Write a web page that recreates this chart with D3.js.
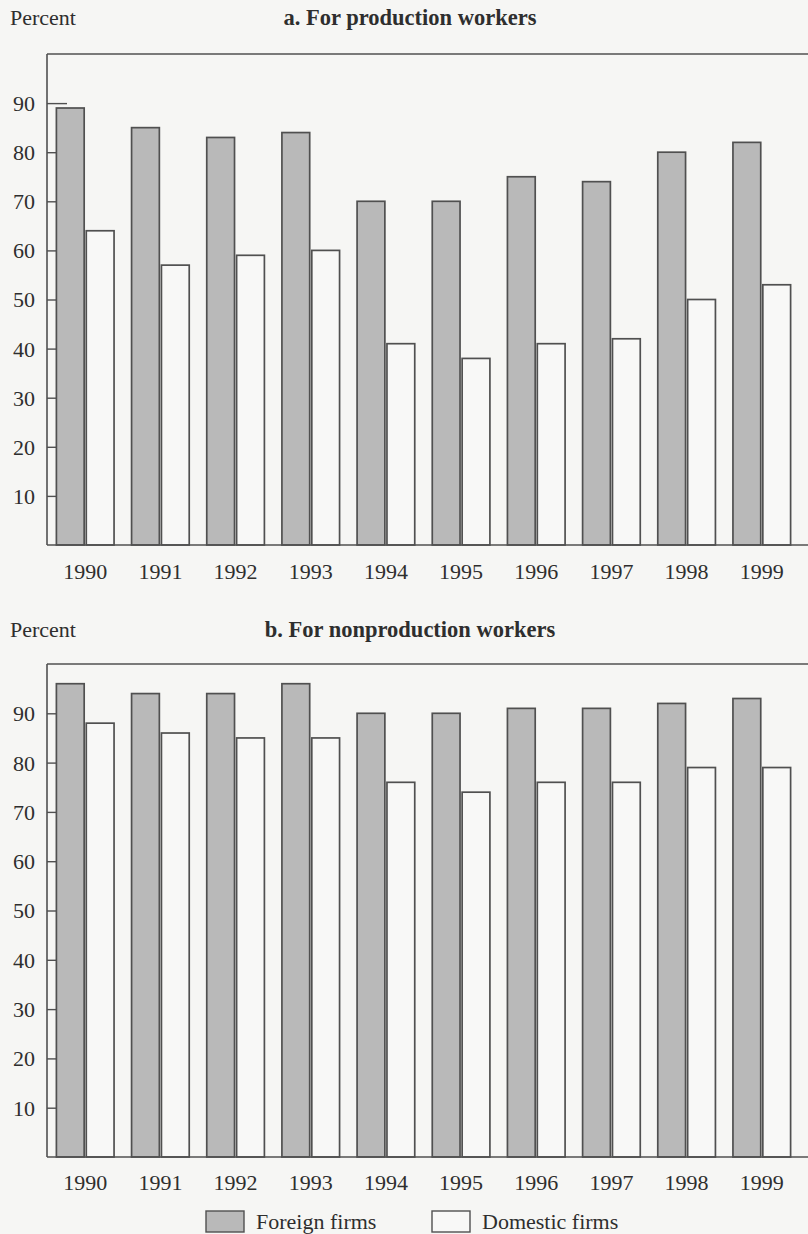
<!DOCTYPE html>
<html>
<head>
<meta charset="utf-8">
<script src="https://cdn.jsdelivr.net/npm/d3@7"></script>
<style>
  html, body { margin: 0; padding: 0; background: #f6f6f4; }
  svg { display: block; }
  text { font-family: "Liberation Serif", "Times New Roman", serif; fill: #2e2e2e; }
</style>
</head>
<body>
<svg id="chart" width="808" height="1234"></svg>
<script>
// Share of firms providing training, by worker type (percent)
const years = ["1990", "1991", "1992", "1993", "1994", "1995", "1996", "1997", "1998", "1999"];
const seriesKeys = ["foreign", "domestic"];
const seriesLabels = ["Foreign firms", "Domestic firms"];

const productionForeign  = [89, 85, 83, 84, 70, 70, 75, 74, 80, 82];
const productionDomestic = [64, 57, 59, 60, 41, 38, 41, 42, 50, 53];

const nonproductionForeign  = [96, 94, 94, 96, 90, 90, 91, 91, 92, 93];
const nonproductionDomestic = [88, 86, 85, 85, 76, 74, 76, 76, 79, 79];

const yTicks = [10, 20, 30, 40, 50, 60, 70, 80, 90];

const panels = [
  { title: "a. For production workers", foreign: productionForeign, domestic: productionDomestic,
    top: 54, bottom: 545, titleY: 25, yearY: 579 },
  { title: "b. For nonproduction workers", foreign: nonproductionForeign, domestic: nonproductionDomestic,
    top: 664, bottom: 1157, titleY: 637, yearY: 1190 }
];

const W = 808;
const axisLeft = 47;
const fontSize = 22;
const fills = { foreign: "#b9b9b9", domestic: "#f8f8f7" };
const stroke = "#505050";

const svg = d3.select("#chart");

const x0 = d3.scaleBand().domain(years).range([47, 800]).paddingInner(0.233).paddingOuter(0.125);
const x1 = d3.scaleBand().domain(seriesKeys).range([0, x0.bandwidth()]).paddingInner(0.07);

panels.forEach(p => {
  const y = d3.scaleLinear().domain([0, 100]).range([p.bottom, p.top]);
  const g = svg.append("g");

  // Labels above the frame
  g.append("text").attr("x", 10).attr("y", p.titleY).attr("font-size", fontSize).text("Percent");
  g.append("text").attr("x", 410).attr("y", p.titleY).attr("text-anchor", "middle")
    .attr("font-size", 22.5).attr("font-weight", "bold").text(p.title);

  // Inward ticks with labels on the left
  const yAxis = d3.axisLeft(y).tickValues(yTicks).tickSize(-20).tickPadding(12).tickFormat(d3.format("d"));
  const ag = g.append("g").attr("transform", `translate(${axisLeft},0)`).call(yAxis);
  ag.select(".domain").remove();
  ag.selectAll(".tick line").attr("stroke", stroke).attr("stroke-width", 1.4);
  ag.selectAll(".tick text").attr("font-size", fontSize).attr("font-family", "Liberation Serif")
    .attr("fill", "#2e2e2e").attr("dy", "0.34em");

  // Frame: left and top
  g.append("line").attr("x1", axisLeft).attr("x2", axisLeft).attr("y1", y(100)).attr("y2", y(0))
    .attr("stroke", stroke).attr("stroke-width", 1.6);
  g.append("line").attr("x1", axisLeft).attr("x2", W).attr("y1", y(100)).attr("y2", y(100))
    .attr("stroke", stroke).attr("stroke-width", 1.6);

  // Bars
  const rows = years.map((yr, i) => ({ year: yr, foreign: p.foreign[i], domestic: p.domestic[i] }));
  const grp = g.selectAll(".grp").data(rows).join("g")
    .attr("transform", d => `translate(${x0(d.year)},0)`);
  grp.selectAll("rect").data(d => seriesKeys.map(k => ({ key: k, value: d[k] }))).join("rect")
    .attr("x", d => x1(d.key))
    .attr("y", d => y(d.value))
    .attr("width", x1.bandwidth())
    .attr("height", d => y(0) - y(d.value))
    .attr("fill", d => fills[d.key])
    .attr("stroke", stroke)
    .attr("stroke-width", 1.7);

  // Baseline
  g.append("line").attr("x1", axisLeft).attr("x2", W).attr("y1", y(0)).attr("y2", y(0))
    .attr("stroke", stroke).attr("stroke-width", 1.6);

  // Year labels
  g.selectAll(".yr").data(years).join("text")
    .attr("x", d => x0(d) + x0.bandwidth() / 2)
    .attr("y", p.yearY)
    .attr("text-anchor", "middle")
    .attr("font-size", fontSize)
    .text(d => d);
});

// Legend
const legendItems = [
  { key: "foreign", label: seriesLabels[0], x: 206 },
  { key: "domestic", label: seriesLabels[1], x: 432 }
];
const lg = svg.append("g");
legendItems.forEach(it => {
  lg.append("rect").attr("x", it.x).attr("y", 1211).attr("width", 38).attr("height", 21)
    .attr("fill", fills[it.key]).attr("stroke", stroke).attr("stroke-width", 1.4);
  lg.append("text").attr("x", it.x + 50).attr("y", 1229).attr("font-size", fontSize).text(it.label);
});
</script>
</body>
</html>
